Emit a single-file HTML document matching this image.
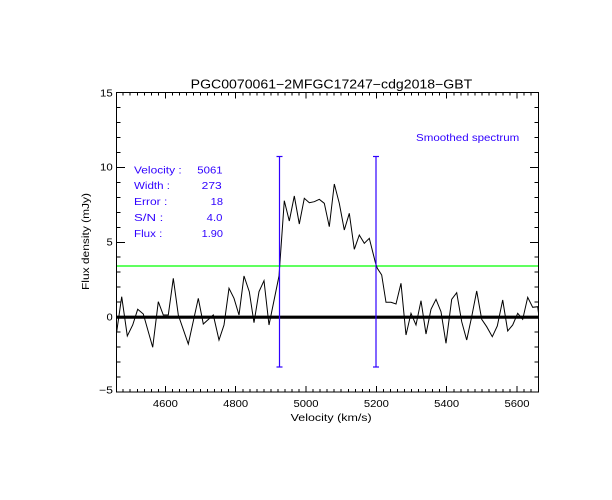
<!DOCTYPE html>
<html>
<head>
<meta charset="utf-8">
<style>
html,body{margin:0;padding:0;background:#fff;}
svg{display:block;}
text{font-family:"Liberation Sans",sans-serif;}
</style>
</head>
<body>
<svg width="612" height="500" viewBox="0 0 612 500" xmlns="http://www.w3.org/2000/svg">
<rect x="0" y="0" width="612" height="500" fill="#fff"/>

<!-- title -->
<text x="190.7" y="88.3" font-size="12.5" textLength="281.6" lengthAdjust="spacingAndGlyphs" fill="#000">PGC0070061−2MFGC17247−cdg2018−GBT</text>

<!-- green line -->
<line x1="116.5" y1="266" x2="538.5" y2="266" stroke="#00ff00" stroke-width="1.2"/>

<!-- zero line -->
<line x1="116.5" y1="317.2" x2="538.5" y2="317.2" stroke="#000" stroke-width="3.2"/>

<!-- spectrum -->
<polyline fill="none" stroke="#000" stroke-width="1" points="
116.7,331.7 121.7,296.7 127.3,336 132.7,325 137.7,309.3 143.3,314 152.7,347.3 158.3,301.7 163.3,315 168.3,315
173.3,278.3 178.3,315 188.3,344 198.3,298.3 203.3,324 213.3,315 219,340 224,325 229,288.3 234,298.3
239,315 244,276 249.3,291.7 254,322.7 259,291.7 264,280.7 269,325 279,276 284.3,200.7 289.3,221
294.3,196 299.3,224 304.3,198.3 309.3,202.7 314.3,201.7 319.3,199.3 324.3,203.3 329.3,226.7 334.3,184 339.3,203.3
344.3,230 349.3,213.3 354.3,249.3 359.3,235 364.3,243.3 369.3,238.3 375.5,263 377.3,268.3 381.7,275 386,302.3
391,302.3 396,304 401,283.3 406,335 411,313.3 416,325 421,300.7 426,334 431,309.3 436,299.3
441,311.7 446,343.3 451.7,299.3 456.7,292.7 461.7,321.7 466.7,340 471.7,316.7 476.7,291 481.7,319.3 486.7,326.7
492.3,336.7 497.3,326 502.7,300 507.7,331 512.7,325 517.7,313.3 522.7,319.3 527.7,297.3 532.7,307.3 537.7,306.7 538.5,313"/>

<!-- blue markers -->
<g stroke="#2f00ff" stroke-width="1.2">
<line x1="279.5" y1="156" x2="279.5" y2="367.5"/>
<line x1="276.5" y1="156.5" x2="282.5" y2="156.5"/>
<line x1="276.5" y1="367" x2="282.5" y2="367"/>
<line x1="376" y1="156" x2="376" y2="367.5"/>
<line x1="373" y1="156.5" x2="379" y2="156.5"/>
<line x1="373" y1="367" x2="379" y2="367"/>
</g>

<!-- axes box -->
<g stroke="#000" stroke-width="1" fill="none" shape-rendering="crispEdges">
<rect x="116.5" y="92.5" width="422" height="299.5"/>
</g>

<!-- x ticks -->
<g stroke="#000" stroke-width="1" shape-rendering="crispEdges">
<path d="
M123.18 392v-3M130.22 392v-3M137.25 392v-3M144.28 392v-3M151.31 392v-3M158.35 392v-3M165.38 392v-6M172.41 392v-3M179.45 392v-3M186.48 392v-3
M193.51 392v-3M200.55 392v-3M207.58 392v-3M214.61 392v-3M221.65 392v-3M228.68 392v-3M235.71 392v-6M242.75 392v-3M249.78 392v-3M256.81 392v-3
M263.85 392v-3M270.88 392v-3M277.91 392v-3M284.95 392v-3M291.98 392v-3M299.01 392v-3M306.05 392v-6M313.08 392v-3M320.11 392v-3M327.15 392v-3
M334.18 392v-3M341.21 392v-3M348.25 392v-3M355.28 392v-3M362.31 392v-3M369.35 392v-3M376.38 392v-6M383.41 392v-3M390.45 392v-3M397.48 392v-3
M404.51 392v-3M411.55 392v-3M418.58 392v-3M425.61 392v-3M432.65 392v-3M439.68 392v-3M446.71 392v-6M453.75 392v-3M460.78 392v-3M467.81 392v-3
M474.85 392v-3M481.88 392v-3M488.91 392v-3M495.95 392v-3M502.98 392v-3M510.01 392v-3M517.05 392v-6M524.08 392v-3M531.11 392v-3
M123.18 92.5v3M130.22 92.5v3M137.25 92.5v3M144.28 92.5v3M151.31 92.5v3M158.35 92.5v3M165.38 92.5v6M172.41 92.5v3M179.45 92.5v3M186.48 92.5v3
M193.51 92.5v3M200.55 92.5v3M207.58 92.5v3M214.61 92.5v3M221.65 92.5v3M228.68 92.5v3M235.71 92.5v6M242.75 92.5v3M249.78 92.5v3M256.81 92.5v3
M263.85 92.5v3M270.88 92.5v3M277.91 92.5v3M284.95 92.5v3M291.98 92.5v3M299.01 92.5v3M306.05 92.5v6M313.08 92.5v3M320.11 92.5v3M327.15 92.5v3
M334.18 92.5v3M341.21 92.5v3M348.25 92.5v3M355.28 92.5v3M362.31 92.5v3M369.35 92.5v3M376.38 92.5v6M383.41 92.5v3M390.45 92.5v3M397.48 92.5v3
M404.51 92.5v3M411.55 92.5v3M418.58 92.5v3M425.61 92.5v3M432.65 92.5v3M439.68 92.5v3M446.71 92.5v6M453.75 92.5v3M460.78 92.5v3M467.81 92.5v3
M474.85 92.5v3M481.88 92.5v3M488.91 92.5v3M495.95 92.5v3M502.98 92.5v3M510.01 92.5v3M517.05 92.5v6M524.08 92.5v3M531.11 92.5v3
"/>
<!-- y ticks -->
<path d="
M116.5 377.03h4.2M116.5 362.05h4.2M116.5 347.08h4.2M116.5 332.1h4.2M116.5 317.13h8.4M116.5 302.15h4.2M116.5 287.18h4.2M116.5 272.2h4.2M116.5 257.23h4.2
M116.5 242.25h8.4M116.5 227.28h4.2M116.5 212.3h4.2M116.5 197.33h4.2M116.5 182.35h4.2M116.5 167.38h8.4M116.5 152.4h4.2M116.5 137.43h4.2M116.5 122.45h4.2M116.5 107.48h4.2
M538.5 377.03h-4.2M538.5 362.05h-4.2M538.5 347.08h-4.2M538.5 332.1h-4.2M538.5 317.13h-8.4M538.5 302.15h-4.2M538.5 287.18h-4.2M538.5 272.2h-4.2M538.5 257.23h-4.2
M538.5 242.25h-8.4M538.5 227.28h-4.2M538.5 212.3h-4.2M538.5 197.33h-4.2M538.5 182.35h-4.2M538.5 167.38h-8.4M538.5 152.4h-4.2M538.5 137.43h-4.2M538.5 122.45h-4.2M538.5 107.48h-4.2
"/>
</g>

<!-- x tick labels -->
<g font-size="10" fill="#000">
<text x="152.9" y="406.8" textLength="25" lengthAdjust="spacingAndGlyphs">4600</text>
<text x="223.2" y="406.8" textLength="25" lengthAdjust="spacingAndGlyphs">4800</text>
<text x="293.5" y="406.8" textLength="25" lengthAdjust="spacingAndGlyphs">5000</text>
<text x="363.9" y="406.8" textLength="25" lengthAdjust="spacingAndGlyphs">5200</text>
<text x="434.2" y="406.8" textLength="25" lengthAdjust="spacingAndGlyphs">5400</text>
<text x="504.5" y="406.8" textLength="25" lengthAdjust="spacingAndGlyphs">5600</text>
</g>

<!-- y tick labels -->
<g font-size="10" fill="#000">
<text x="100" y="96.5" textLength="12.7" lengthAdjust="spacingAndGlyphs">15</text>
<text x="100" y="170.5" textLength="12.7" lengthAdjust="spacingAndGlyphs">10</text>
<text x="106.5" y="245.5" textLength="6.2" lengthAdjust="spacingAndGlyphs">5</text>
<text x="106.5" y="320.5" textLength="6.2" lengthAdjust="spacingAndGlyphs">0</text>
<text x="99" y="393.5" textLength="14" lengthAdjust="spacingAndGlyphs">−5</text>
</g>

<!-- axis titles -->
<text x="290.7" y="421" font-size="10" textLength="81" lengthAdjust="spacingAndGlyphs" fill="#000">Velocity (km/s)</text>
<text transform="translate(89,290) rotate(-90)" x="0" y="0" font-size="10" textLength="97" lengthAdjust="spacingAndGlyphs" fill="#000">Flux density (mJy)</text>

<!-- legend -->
<g font-size="10" fill="#2f00ff">
<text x="134" y="173.4" textLength="47.7" lengthAdjust="spacingAndGlyphs">Velocity :</text>
<text x="134" y="189" textLength="36" lengthAdjust="spacingAndGlyphs">Width :</text>
<text x="134" y="205" textLength="33.3" lengthAdjust="spacingAndGlyphs">Error :</text>
<text x="134" y="221" textLength="29.3" lengthAdjust="spacingAndGlyphs">S/N :</text>
<text x="134" y="236.8" textLength="28.3" lengthAdjust="spacingAndGlyphs">Flux :</text>
<text x="197.3" y="173.4" textLength="25.3" lengthAdjust="spacingAndGlyphs">5061</text>
<text x="201.7" y="189" textLength="20" lengthAdjust="spacingAndGlyphs">273</text>
<text x="210.7" y="205" textLength="12.3" lengthAdjust="spacingAndGlyphs">18</text>
<text x="206.7" y="221" textLength="15.7" lengthAdjust="spacingAndGlyphs">4.0</text>
<text x="201.7" y="236.8" textLength="21.3" lengthAdjust="spacingAndGlyphs">1.90</text>
<text x="416" y="141" textLength="103.3" lengthAdjust="spacingAndGlyphs">Smoothed spectrum</text>
</g>
</svg>
</body>
</html>
